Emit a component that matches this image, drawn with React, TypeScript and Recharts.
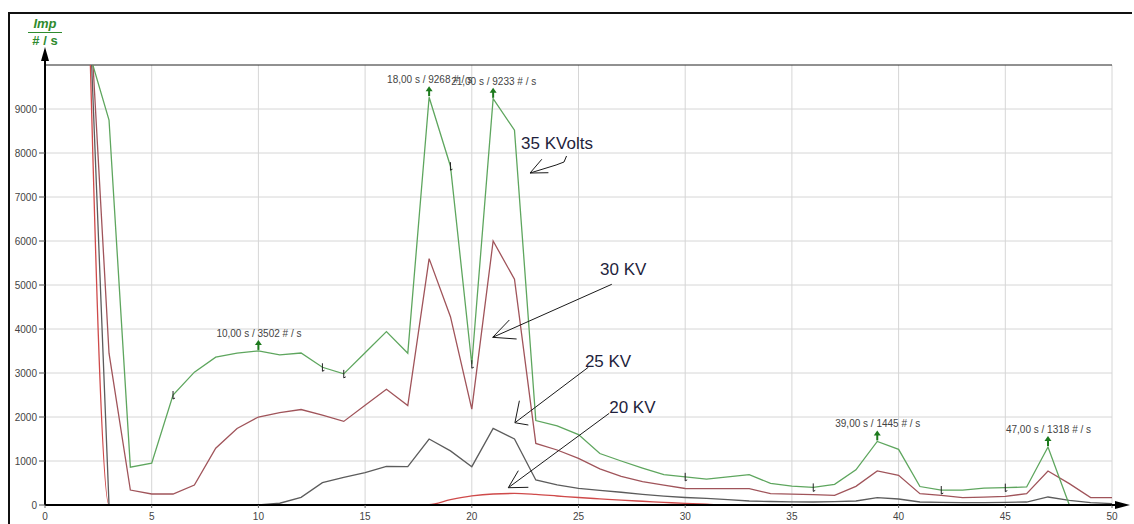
import React from "react";
import { LineChart, Line, XAxis, YAxis, CartesianGrid, ReferenceLine, ReferenceDot } from "recharts";

// time axis (s)
const seconds = [2, 3, 4, 5, 6, 7, 8, 9, 10, 11, 12, 13, 14, 15, 16, 17, 18, 19, 20, 21, 22, 23, 24, 25, 26, 27, 28, 29, 30, 31, 32, 33, 34, 35, 36, 37, 38, 39, 40, 41, 42, 43, 44, 45, 46, 47, 48, 49, 50];

// impulses per second for each voltage
const kv35 = [10400, 8750, 860, 950, 2500, 3020, 3360, 3450, 3502, 3410, 3455, 3130, 2980, 3460, 3940, 3450, 9268, 7700, 3200, 9233, 8520, 1920, 1800, 1600, 1170, 1000, 840, 690, 640, 590, 640, 690, 490, 430, 400, 470, 800, 1445, 1265, 420, 340, 340, 385, 395, 410, 1318, 0, 0, 0];
const kv30 = [12200, 3450, 340, 250, 250, 455, 1290, 1740, 2000, 2100, 2170, 2040, 1900, 2265, 2630, 2260, 5600, 4280, 2180, 6000, 5130, 1400, 1250, 1060, 820, 650, 530, 450, 375, 371, 371, 371, 258, 245, 235, 220, 424, 773, 674, 258, 220, 167, 180, 197, 258, 773, 485, 167, 167];
const kv25 = [12300, 0, 0, 0, 0, 0, 0, 0, 0, 40, 174, 508, 629, 735, 880, 871, 1500, 1230, 871, 1742, 1500, 568, 455, 380, 333, 290, 240, 200, 170, 150, 120, 91, 80, 72, 68, 75, 91, 167, 136, 68, 60, 55, 55, 60, 68, 182, 106, 53, 30];
const kv20 = [12300, 0, 0, 0, 0, 0, 0, 0, 0, 0, 0, 0, 0, 0, 0, 0, 10, 120, 205, 250, 262, 240, 205, 170, 140, 110, 85, 60, 35, 18, 0, 0, 0, 0, 0, 0, 0, 0, 0, 0, 0, 0, 0, 0, 0, 0, 0, 0, 0];

const xTicks = [0, 5, 10, 15, 20, 25, 30, 35, 40, 45, 50];
const yTicks = [0, 1000, 2000, 3000, 4000, 5000, 6000, 7000, 8000, 9000];

// marked maxima of the 35 KV curve
const peakTimes = [10, 18, 21, 39, 47];
const peakLabels = ["10,00 s / 3502 # / s", "18,00 s / 9268 # / s", "21,00 s / 9233 # / s", "39,00 s / 1445 # / s", "47,00 s / 1318 # / s"];

// small cursor marks on the 35 KV curve
const kv35Marks = [6, 13, 14, 19, 20, 30, 36, 42, 45];

// hand-written series notes (in data coordinates)
const notes = [
  { text: "35 KVolts", at: [22.31, 8084], path: [[24.44, 7932], [24.32, 7795], [23.95, 7727], [22.73, 7545]], head: [[23.28, 7857], [23.59, 7552]] },
  { text: "30 KV", at: [26.01, 5227], path: [[26.56, 5016], [20.98, 3811]], head: [[21.76, 4205], [22.1, 3773]] },
  { text: "25 KV", at: [25.3, 3130], path: [[25.46, 3130], [22.02, 1870]], head: [[22.23, 2370], [22.65, 1818]] },
  { text: "20 KV", at: [26.44, 2084], path: [[26.44, 2084], [21.71, 393]], head: [[22.18, 780], [22.65, 402]] },
];

const data = seconds.map((t, i) => ({ t, kv35: kv35[i], kv30: kv30[i], kv25: kv25[i], kv20: kv20[i] }));

const FONT = "'Liberation Sans', Arial, sans-serif";
const GREEN = "#5ea65e";

export default function App() {
  const noteSegments: any[] = [];
  notes.forEach((n, ni) => {
    const tip = n.path[n.path.length - 1];
    for (let i = 0; i < n.path.length - 1; i++) noteSegments.push({ key: `n${ni}p${i}`, a: n.path[i], b: n.path[i + 1] });
    n.head.forEach((h, hi) => noteSegments.push({ key: `n${ni}h${hi}`, a: tip, b: h }));
  });

  return (
    <div style={{ position: "absolute", left: 0, top: 0, width: 1134, height: 524, background: "#fff", fontFamily: FONT, overflow: "hidden" }}>
      <div style={{ position: "absolute", left: 8, top: 12, width: 1122, height: 520, borderTop: "2px solid #111", borderLeft: "2px solid #111" }} />
      <div style={{ position: "absolute", left: 28, top: 17, width: 34, textAlign: "center", color: "#2e8b2e", fontWeight: "bold", fontSize: 13, lineHeight: "14px" }}>
        <div style={{ fontStyle: "italic", borderBottom: "1.5px solid #2e8b2e", paddingBottom: 1 }}>Imp</div>
        <div style={{ marginTop: 1 }}># / s</div>
      </div>
      <div style={{ position: "absolute", left: 0, top: 0 }}>
        <LineChart width={1134} height={524} data={data} margin={{ top: 65, right: 22, bottom: 0, left: 8 }} style={{ fontFamily: FONT }}>
          <CartesianGrid stroke="#d6d6d6" strokeWidth={1} verticalValues={xTicks} horizontalValues={yTicks} />
          <XAxis
            type="number"
            dataKey="t"
            domain={[0, 50]}
            ticks={xTicks}
            height={19}
            tickSize={3}
            tickMargin={5}
            axisLine={{ stroke: "#000", strokeWidth: 2 }}
            tickLine={{ stroke: "#666" }}
            tick={{ fontSize: 10, fill: "#444" }}
          />
          <YAxis
            type="number"
            domain={[0, 10000]}
            allowDataOverflow
            ticks={yTicks}
            width={37}
            tickSize={6}
            tickMargin={2}
            axisLine={{ stroke: "#000", strokeWidth: 2 }}
            tickLine={{ stroke: "#555" }}
            tick={{ fontSize: 10, fill: "#444" }}
          />
          <ReferenceLine y={10000} stroke="#222" strokeWidth={1} ifOverflow="visible" />
          <Line dataKey="kv20" type="monotone" stroke="#cf4a4a" strokeWidth={1.3} dot={false} isAnimationActive={false} />
          <Line dataKey="kv25" type="linear" stroke="#5c5c5c" strokeWidth={1.3} dot={false} isAnimationActive={false} />
          <Line dataKey="kv30" type="linear" stroke="#a0545a" strokeWidth={1.3} dot={false} isAnimationActive={false} />
          <Line
            dataKey="kv35"
            type="linear"
            stroke={GREEN}
            strokeWidth={1.3}
            isAnimationActive={false}
            dot={(p: any) => {
              const { cx, cy, payload, index } = p;
              if (!kv35Marks.includes(payload.t)) return <g key={`m${index}`} />;
              return <path key={`m${index}`} d={`M${cx},${cy - 4} L${cx},${cy + 4} l2,-1`} stroke="#222" strokeWidth={1} fill="none" />;
            }}
          />
          {peakTimes.map((t, i) => (
            <ReferenceDot
              key={`pk${t}`}
              x={t}
              y={kv35[seconds.indexOf(t)]}
              ifOverflow="visible"
              shape={(p: any) => {
                const { cx, cy } = p;
                return (
                  <g>
                    <line x1={cx} y1={cy - 1} x2={cx} y2={cy - 7} stroke="#1d7a1d" strokeWidth={2} />
                    <polygon points={`${cx},${cy - 11} ${cx - 3.5},${cy - 6} ${cx + 3.5},${cy - 6}`} fill="#1d7a1d" />
                    <text x={cx - 42} y={cy - 14} fontSize={10} fill="#444" fontFamily={FONT}>{peakLabels[i]}</text>
                  </g>
                );
              }}
            />
          ))}
          {noteSegments.map((s) => (
            <ReferenceLine
              key={s.key}
              segment={[{ x: s.a[0], y: s.a[1] }, { x: s.b[0], y: s.b[1] }]}
              stroke="#1a1a1a"
              strokeWidth={1}
              ifOverflow="visible"
            />
          ))}
          {notes.map((n, i) => (
            <ReferenceDot
              key={`nt${i}`}
              x={n.at[0]}
              y={n.at[1]}
              ifOverflow="visible"
              shape={(p: any) => (
                <text x={p.cx} y={p.cy} fontSize={17} fill="#1f1f3d" fontFamily={FONT}>{n.text}</text>
              )}
            />
          ))}
          <ReferenceDot
            x={50}
            y={0}
            ifOverflow="visible"
            shape={(p: any) => (
              <g>
                <line x1={p.cx} y1={p.cy} x2={p.cx + 6} y2={p.cy} stroke="#000" strokeWidth={2} />
                <polygon points={`${p.cx + 3},${p.cy - 4} ${p.cx + 18},${p.cy} ${p.cx + 3},${p.cy + 4}`} fill="#000" />
              </g>
            )}
          />
          <ReferenceDot
            x={0}
            y={10000}
            ifOverflow="visible"
            shape={(p: any) => (
              <g>
                <line x1={p.cx} y1={p.cy} x2={p.cx} y2={p.cy - 6} stroke="#000" strokeWidth={2} />
                <polygon points={`${p.cx - 4},${p.cy - 4} ${p.cx},${p.cy - 18} ${p.cx + 4},${p.cy - 4}`} fill="#000" />
              </g>
            )}
          />
        </LineChart>
      </div>
    </div>
  );
}
